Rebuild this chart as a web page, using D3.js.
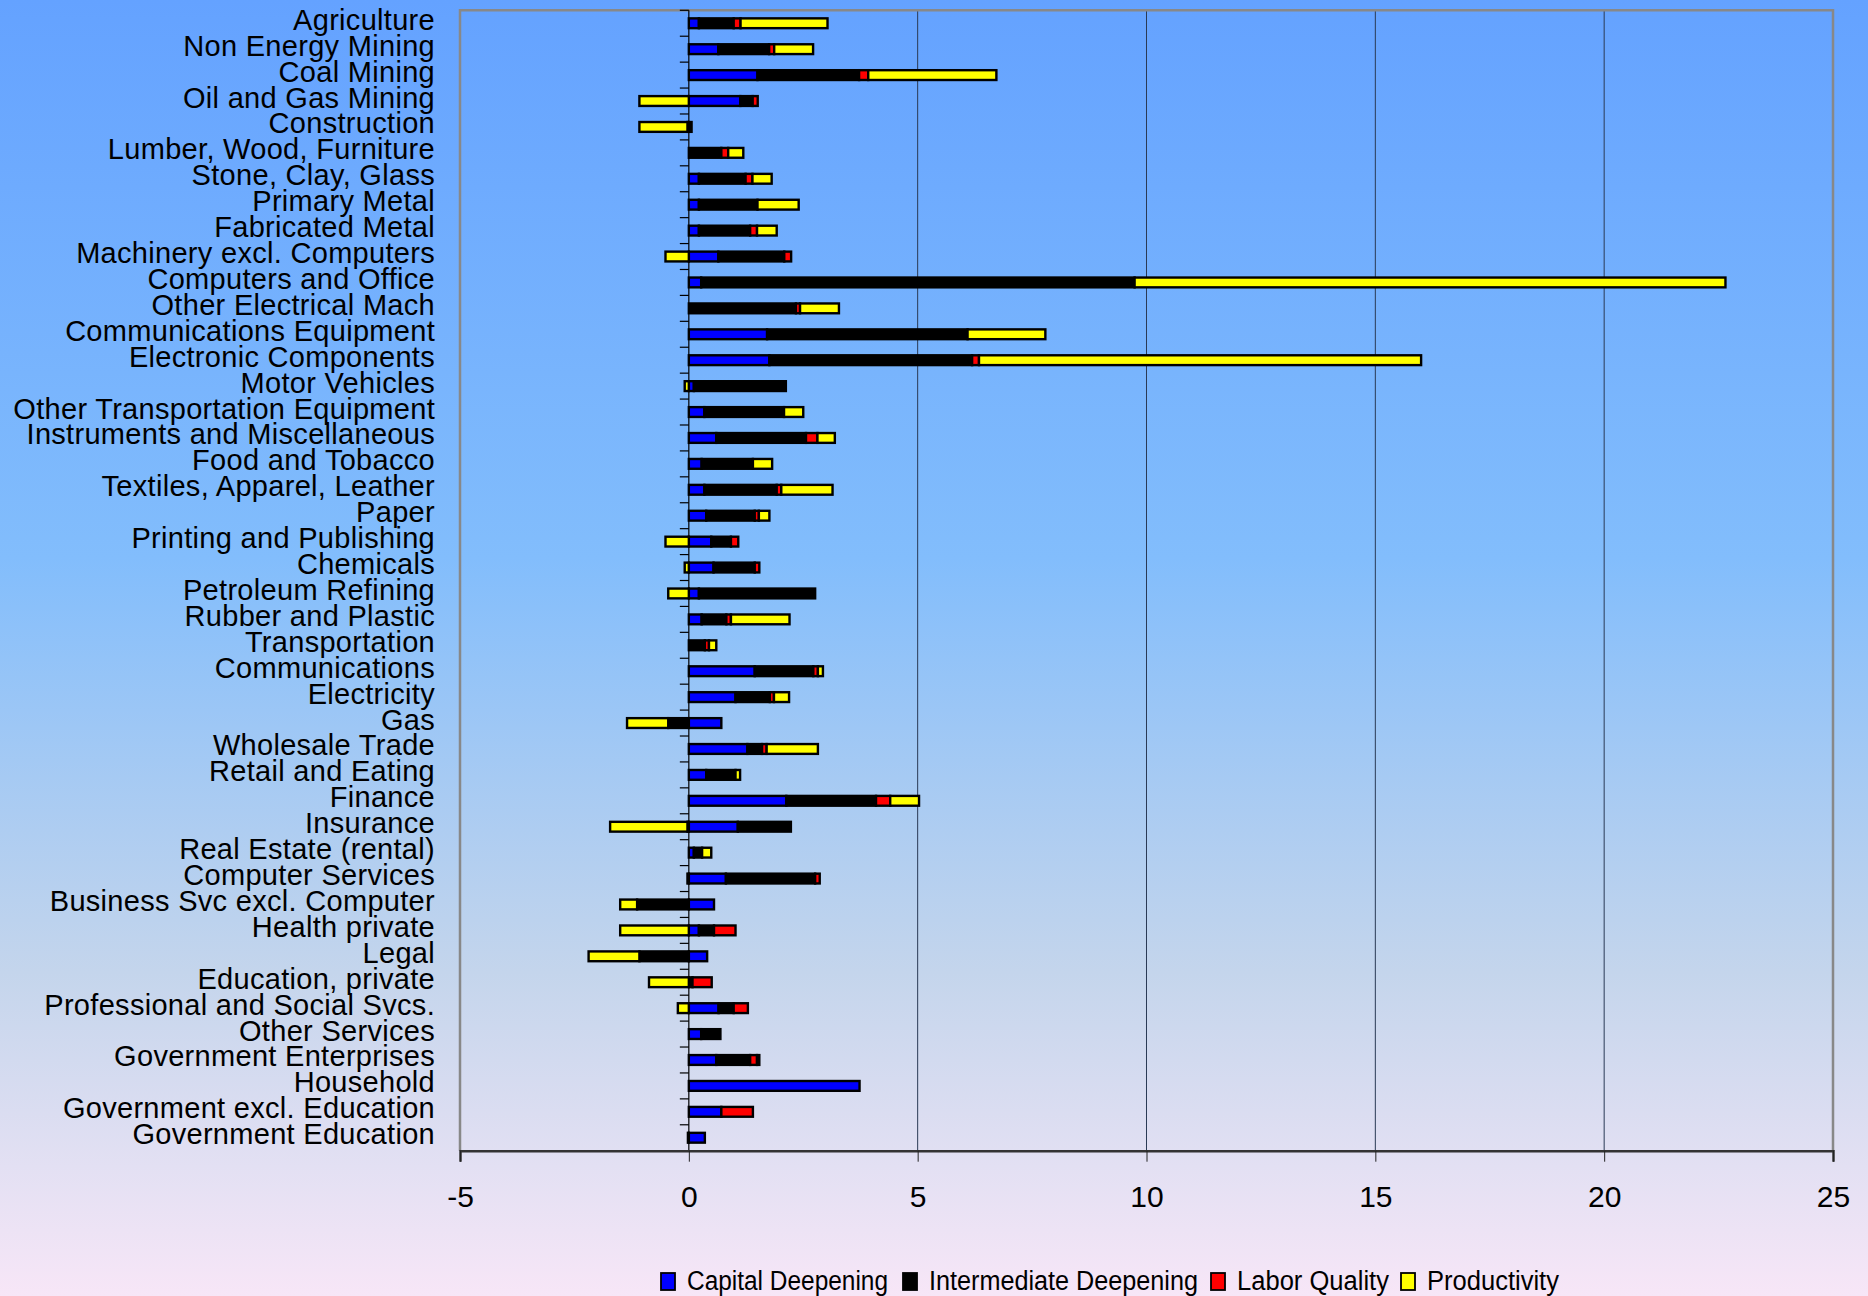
<!DOCTYPE html>
<html>
<head>
<meta charset="utf-8">
<script src="https://cdn.jsdelivr.net/npm/d3@7"></script>
<style>
  html, body { margin: 0; padding: 0; }
  svg { display: block; }
  text { font-family: "Liberation Sans", Arial, sans-serif; fill: #000; }
</style>
</head>
<body>
<script>
// Industries, top to bottom
const categories = [
  "Agriculture", "Non Energy Mining", "Coal Mining", "Oil and Gas Mining", "Construction",
  "Lumber, Wood, Furniture", "Stone, Clay, Glass", "Primary Metal", "Fabricated Metal",
  "Machinery excl. Computers", "Computers and Office", "Other Electrical Mach",
  "Communications Equipment", "Electronic Components", "Motor Vehicles",
  "Other Transportation Equipment", "Instruments and Miscellaneous", "Food and Tobacco",
  "Textiles, Apparel, Leather", "Paper", "Printing and Publishing", "Chemicals",
  "Petroleum Refining", "Rubber and Plastic", "Transportation", "Communications",
  "Electricity", "Gas", "Wholesale Trade", "Retail and Eating", "Finance", "Insurance",
  "Real Estate (rental)", "Computer Services", "Business Svc excl. Computer",
  "Health private", "Legal", "Education, private", "Professional and Social Svcs.",
  "Other Services", "Government Enterprises", "Household", "Government excl. Education",
  "Government Education"
];

// Contribution components per industry
const capitalDeepening = [
  0.22, 0.645, 1.50, 1.125, 0, 0, 0.22, 0.22, 0.22, 0.645, 0.27, 0, 1.71, 1.76, 0.11,
  0.34, 0.60, 0.28, 0.34, 0.38, 0.49, 0.54, 0.22, 0.28, 0, 1.44, 1.02, 0.71, 1.28, 0.38,
  2.13, 1.07, 0.11, 0.81, 0.55, 0.22, 0.40, 0, 0.65, 0.27, 0.60, 3.73, 0.71, 0.35
];
const intermediateDeepening = [
  0.76, 1.11, 2.22, 0.27, 0.06, 0.71, 1.02, 1.28, 1.12, 1.44, 9.47, 2.34, 4.38, 4.43, 2.01,
  1.74, 1.96, 1.12, 1.58, 1.06, 0.43, 0.90, 2.54, 0.54, 0.35, 1.28, 0.75, -0.45, 0.32, 0.64,
  1.96, 1.16, 0.18, 1.95, -1.13, 0.33, -1.08, 0.08, 0.33, 0.42, 0.74, 0, 0, -0.02
];
const laborQuality = [
  0.15, 0.11, 0.20, 0.11, -0.03, 0.15, 0.15, 0, 0.15, 0.15, 0, 0.09, 0, 0.15, 0,
  0, 0.25, 0, 0.10, 0.09, 0.16, 0.10, 0, 0.10, 0.09, 0.10, 0.09, 0, 0.10, 0,
  0.31, -0.03, 0, 0.10, 0, 0.47, 0, 0.42, 0.31, 0, 0.15, 0, 0.69, 0
];
const productivity = [
  1.90, 0.85, 2.80, -1.08, -1.05, 0.33, 0.42, 0.90, 0.43, -0.51, 12.91, 0.85, 1.70, 9.66, -0.09,
  0.42, 0.38, 0.42, 1.12, 0.23, -0.51, -0.09, -0.45, 1.28, 0.16, 0.11, 0.33, -0.90, 1.12, 0.10,
  0.63, -1.69, 0.20, -0.03, -0.37, -1.50, -1.11, -0.87, -0.24, 0, 0.05, 0, 0, 0
];

const seriesNames = ["Capital Deepening", "Intermediate Deepening", "Labor Quality", "Productivity"];
const seriesColors = ["#0000ff", "#000000", "#ff0000", "#ffff00"];
const xTickValues = [-5, 0, 5, 10, 15, 20, 25];
const xTickLabels = ["-5", "0", "5", "10", "15", "20", "25"];

const W = 1868, H = 1296;
const plot = { left: 460, right: 1833, top: 10.3, bottom: 1150.7 };

const rows = categories.map((c, i) => ({
  category: c,
  "Capital Deepening": capitalDeepening[i],
  "Intermediate Deepening": intermediateDeepening[i],
  "Labor Quality": laborQuality[i],
  "Productivity": productivity[i]
}));

const svg = d3.select("body").append("svg").attr("width", W).attr("height", H);

// Background gradient, blue at the top fading to pale lilac
const defs = svg.append("defs");
const grad = defs.append("linearGradient").attr("id", "bg").attr("x1", 0).attr("y1", 0).attr("x2", 0).attr("y2", 1);
[[0, "#64a2ff"], [0.43, "#82bdfc"], [0.6, "#a6caf3"], [0.75, "#c4d5ec"], [0.9, "#e3e0f3"], [1, "#f7e6f7"]]
  .forEach(([o, c]) => grad.append("stop").attr("offset", o).attr("stop-color", c));
svg.append("rect").attr("width", W).attr("height", H).attr("fill", "url(#bg)");

const x = d3.scaleLinear().domain([-5, 25]).range([plot.left, plot.right]);
const y = d3.scaleBand().domain(categories).range([plot.top, plot.bottom]);

// Vertical gridlines
svg.append("g").selectAll("line")
  .data(xTickValues.filter(v => v !== -5 && v !== 0 && v !== 25))
  .join("line")
  .attr("x1", d => x(d)).attr("x2", d => x(d))
  .attr("y1", plot.top).attr("y2", plot.bottom)
  .attr("stroke", "#2a3a55").attr("stroke-width", 1);

// Plot frame (left, top, right)
svg.append("path")
  .attr("d", `M${plot.left},${plot.bottom}V${plot.top}H${plot.right}V${plot.bottom}`)
  .attr("fill", "none").attr("stroke", "#888").attr("stroke-width", 2.5);

// Category axis on the zero line
const catAxis = svg.append("g");
catAxis.append("line")
  .attr("x1", x(0)).attr("x2", x(0)).attr("y1", plot.top).attr("y2", plot.bottom)
  .attr("stroke", "#000").attr("stroke-width", 1.2);
const tickYs = categories.map(c => y(c)).concat([plot.bottom]);
catAxis.selectAll("line.tick").data(tickYs).join("line")
  .attr("class", "tick")
  .attr("x1", x(0) - 9).attr("x2", x(0))
  .attr("y1", d => d).attr("y2", d => d)
  .attr("stroke", "#000").attr("stroke-width", 1.2);

// Category labels
svg.append("g").selectAll("text").data(categories).join("text")
  .attr("x", 435)
  .attr("y", d => y(d) + y.bandwidth() / 2 + 6.5)
  .attr("text-anchor", "end")
  .attr("font-size", 29)
  .attr("letter-spacing", 0.3)
  .text(d => d);

// Stacked bars, negatives stacked leftward from zero
const stack = d3.stack().keys(seriesNames).offset(d3.stackOffsetDiverging);
const stacked = stack(rows);
const barH = 9.8;

svg.append("g").selectAll("g").data(stacked).join("g")
  .attr("fill", (d, i) => seriesColors[i])
  .selectAll("rect")
  .data(d => d.filter(s => s[1] - s[0] !== 0))
  .join("rect")
  .attr("x", d => x(Math.min(d[0], d[1])))
  .attr("width", d => Math.abs(x(d[1]) - x(d[0])))
  .attr("y", d => y(d.data.category) + y.bandwidth() / 2 - barH / 2)
  .attr("height", barH)
  .attr("stroke", "#000")
  .attr("stroke-width", 2.4);

// Value axis along the bottom
const xAxis = svg.append("g").attr("transform", `translate(0,${plot.bottom})`)
  .call(d3.axisBottom(x).tickValues(xTickValues).tickSize(11).tickPadding(24)
    .tickFormat((d, i) => xTickLabels[i]));
xAxis.select(".domain").attr("stroke", "#333").attr("stroke-width", 2.5);
xAxis.selectAll(".tick line").attr("stroke", "#222").attr("stroke-width", 1);
xAxis.selectAll(".tick text")
  .attr("font-family", "Liberation Sans, Arial, sans-serif")
  .attr("font-size", 30).attr("fill", "#000");

// Legend
const legendItems = [
  { name: seriesNames[0], color: seriesColors[0], sx: 661, tw: 201 },
  { name: seriesNames[1], color: seriesColors[1], sx: 903, tw: 269 },
  { name: seriesNames[2], color: seriesColors[2], sx: 1211, tw: 152 },
  { name: seriesNames[3], color: seriesColors[3], sx: 1401, tw: 132 }
];
const lg = svg.append("g").selectAll("g").data(legendItems).join("g");
lg.append("rect")
  .attr("x", d => d.sx).attr("y", 1273)
  .attr("width", 14).attr("height", 17)
  .attr("fill", d => d.color).attr("stroke", "#000").attr("stroke-width", 1.8);
lg.append("text")
  .attr("x", d => d.sx + 26).attr("y", 1290)
  .attr("font-size", 27)
  .attr("textLength", d => d.tw)
  .attr("lengthAdjust", "spacingAndGlyphs")
  .text(d => d.name);
</script>
</body>
</html>
